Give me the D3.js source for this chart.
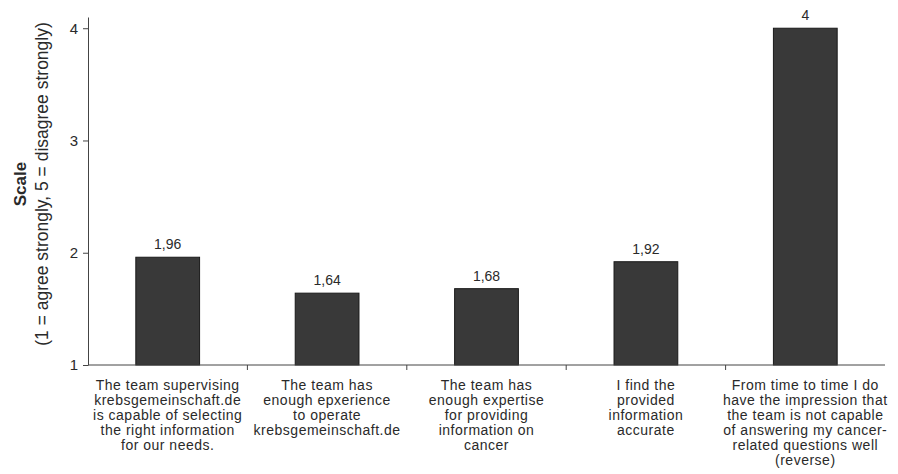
<!DOCTYPE html>
<html lang="en">
<head>
    <meta charset="UTF-8">
    <title>Scale bar chart</title>
    <script src="https://d3js.org/d3.v7.min.js"></script>
    <style>
        body { margin: 0; background: white; }
        text { font-family: "Liberation Sans", Arial, sans-serif; fill: #2a2a2a; }
    </style>
</head>
<body>
<script>
    // categories (each label split into lines as in the original)
    const categories = [
        ["The team supervising", "krebsgemeinschaft.de", "is capable of selecting", "the right information", "for our needs."],
        ["The team has", "enough epxerience", "to operate", "krebsgemeinschaft.de"],
        ["The team has", "enough expertise", "for providing", "information on", "cancer"],
        ["I find the", "provided", "information", "accurate"],
        ["From time to time I do", "have the impression that", "the team is not capable", "of answering my cancer-", "related questions well", "(reverse)"]
    ];
    const values = [1.96, 1.64, 1.68, 1.92, 4];
    const valueLabels = ["1,96", "1,64", "1,68", "1,92", "4"];
    const yTicks = [1, 2, 3, 4];

    const width = 898, height = 474;
    const plotLeft = 88, plotRight = 885, plotTop = 17, plotBottom = 365;

    const svg = d3.select('body').append('svg')
        .attr('width', width)
        .attr('height', height);

    const x = d3.scaleBand()
        .domain(d3.range(values.length))
        .range([plotLeft, plotRight])
        .paddingInner(0.6)
        .paddingOuter(0.3);

    const y = d3.scaleLinear()
        .domain([1, 4.1])
        .range([plotBottom, plotTop]);

    // bars
    svg.selectAll('.bar')
        .data(values)
        .enter()
        .append('rect')
        .attr('class', 'bar')
        .attr('x', (d, i) => x(i))
        .attr('y', d => y(d))
        .attr('width', x.bandwidth())
        .attr('height', d => y(1) - y(d))
        .attr('fill', '#393939')
        .attr('stroke', '#1a1a1a')
        .attr('stroke-width', 1);

    // value labels
    svg.selectAll('.val')
        .data(values)
        .enter()
        .append('text')
        .attr('x', (d, i) => x(i) + x.bandwidth() / 2)
        .attr('y', d => y(d) - 8)
        .attr('text-anchor', 'middle')
        .style('font-size', '14px')
        .text((d, i) => valueLabels[i]);

    // y axis
    const yAxis = svg.append('g')
        .attr('transform', 'translate(' + plotLeft + ',0)')
        .call(d3.axisLeft(y).tickValues(yTicks).tickFormat(d3.format('d')).tickSize(5).tickSizeOuter(0));
    yAxis.selectAll('text').style('font-size', '15px').attr('x', -10);

    // x axis: ticks between categories, pointing down
    const xAxis = svg.append('g')
        .attr('transform', 'translate(0,' + plotBottom + ')');
    xAxis.append('line')
        .attr('x1', plotLeft).attr('x2', plotRight)
        .attr('y1', 0).attr('y2', 0);
    xAxis.selectAll('.xt')
        .data(d3.range(1, values.length))
        .enter()
        .append('line')
        .attr('x1', i => x(i) - x.step() * x.paddingInner() / 2)
        .attr('x2', i => x(i) - x.step() * x.paddingInner() / 2)
        .attr('y1', 0).attr('y2', 5);

    svg.selectAll('.domain, .tick line').attr('stroke', '#444');
    xAxis.selectAll('line').attr('stroke', '#444');

    // category labels
    const labels = svg.selectAll('.cat')
        .data(categories)
        .enter()
        .append('text')
        .attr('text-anchor', 'middle')
        .style('font-size', '14px')
        .style('letter-spacing', '0.5px');
    labels.selectAll('tspan')
        .data((d, i) => d.map(line => ({ line, i })))
        .enter()
        .append('tspan')
        .attr('x', d => x(d.i) + x.bandwidth() / 2)
        .attr('y', (d, j) => 390 + j * 15)
        .text(d => d.line);

    // y axis title
    const title = svg.append('text')
        .attr('transform', 'translate(0,184) rotate(-90)')
        .attr('text-anchor', 'middle');
    title.append('tspan')
        .attr('x', 0).attr('y', 26)
        .style('font-size', '17px')
        .style('font-weight', 'bold')
        .text('Scale');
    title.append('tspan')
        .attr('x', 0).attr('y', 48)
        .style('font-size', '17.5px')
        .text('(1 = agree strongly, 5 = disagree strongly)');
</script>
</body>
</html>
